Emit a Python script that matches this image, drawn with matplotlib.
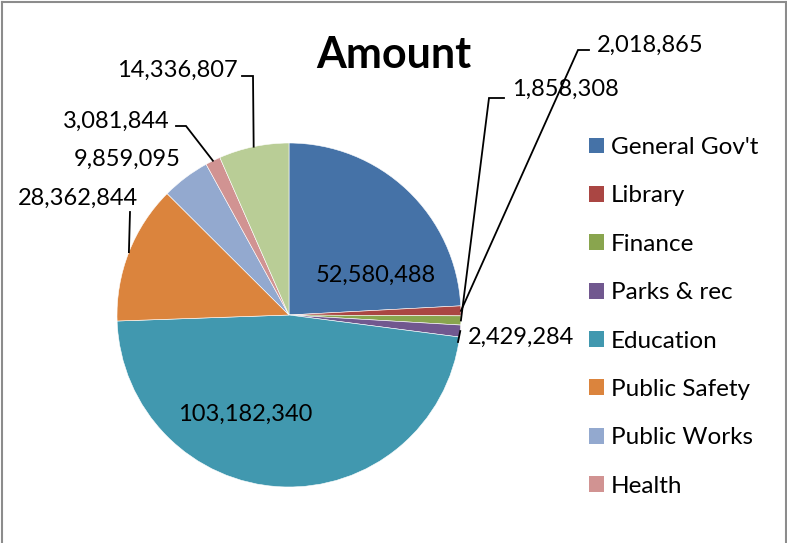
import numpy as np
import matplotlib.pyplot as plt
from matplotlib.patches import Patch
from matplotlib.lines import Line2D

plt.rcParams['font.family'] = ['Lato', 'DejaVu Sans']

categories = ["General Gov't", 'Library', 'Finance', 'Parks & rec', 'Education',
              'Public Safety', 'Public Works', 'Health', 'Other']
amounts = [52580488, 2018865, 1858308, 2429284, 103182340,
           28362844, 9859095, 3081844, 14336807]
colors = ['#4572A7', '#AA4643', '#89A54E', '#71588F', '#4198AF',
          '#DB843D', '#93A9CF', '#D19392', '#B9CD96']
n_legend = 8  # legend in the original only lists the first eight

W, H = 787, 543
fig = plt.figure(figsize=(W / 100, H / 100), dpi=100)

# pie centre (289, 315) px from top-left, radius 172 px
cx, cy, r = 289, 315, 172
ax = fig.add_axes([(cx - r) / W, (H - cy - r) / H, 2 * r / W, 2 * r / H])
wedges, _ = ax.pie(amounts, colors=colors, startangle=90, counterclock=False,
                   radius=1, wedgeprops=dict(edgecolor='white', linewidth=0.4))
ax.set_xlim(-1, 1)
ax.set_ylim(-1, 1)
ax.set_aspect('equal')
ax.axis('off')


def edge_point(w):
    a = np.deg2rad((w.theta1 + w.theta2) / 2)
    return np.cos(a), np.sin(a)


def px(x, y):
    # pixel coords (top-left origin) -> data coords
    return (x - cx) / r, (cy - y) / r


lab = dict(fontsize=17, color='black')
fmt = lambda v: f'{v:,}'

# inside labels
ax.text(*px(376, 275), fmt(amounts[0]), ha='center', va='center', **lab)
ax.text(*px(245, 414), fmt(amounts[4]), ha='center', va='center', **lab)

# outside labels: index, text anchor px, ha, leader points px (before the wedge edge)
outside = [
    (8, (238, 70), 'right', [(242, 76), (253, 76)]),
    (7, (170, 121), 'right', [(176, 126), (186, 126)]),
    (6, (181, 159), 'right', []),
    (5, (78, 198), 'center', [(130, 212)]),
    (1, (597, 45), 'left', [(589, 50), (578, 50)]),
    (2, (512, 89), 'left', [(504, 98), (489, 98)]),
    (3, (468, 337), 'left', [(458, 342)]),
]
for i, tpos, ha, leader in outside:
    ax.text(*px(*tpos), fmt(amounts[i]), ha=ha, va='center', clip_on=False, **lab)
    if leader:
        pts = [px(*p) for p in leader] + [edge_point(wedges[i])]
        xs, ys = zip(*pts)
        ax.plot(xs, ys, color='black', lw=1.3, clip_on=False,
                solid_joinstyle='miter')

fig.text(394 / W, 1 - 55 / H, 'Amount', ha='center', va='center',
         fontsize=31, fontweight='bold')

handles = [Patch(facecolor=colors[k], edgecolor='none') for k in range(n_legend)]
fig.legend(handles, categories[:n_legend], loc='upper left',
           bbox_to_anchor=(577 / W, 1 - 125 / H), frameon=False,
           fontsize=17.5, handlelength=0.62, handleheight=0.62,
           handletextpad=0.28, labelspacing=1.125, borderpad=0)

# chart border (open at the bottom, as in the original crop)
border = dict(color='#8c8c8c', lw=1.5, transform=fig.transFigure)
fig.add_artist(Line2D([2 / W, 2 / W], [0, 1 - 2 / H], **border))
fig.add_artist(Line2D([2 / W, 785.5 / W], [1 - 2 / H, 1 - 2 / H], **border))
fig.add_artist(Line2D([785.5 / W, 785.5 / W], [0, 1 - 2 / H], **border))

fig.savefig('out.png', dpi=100)
